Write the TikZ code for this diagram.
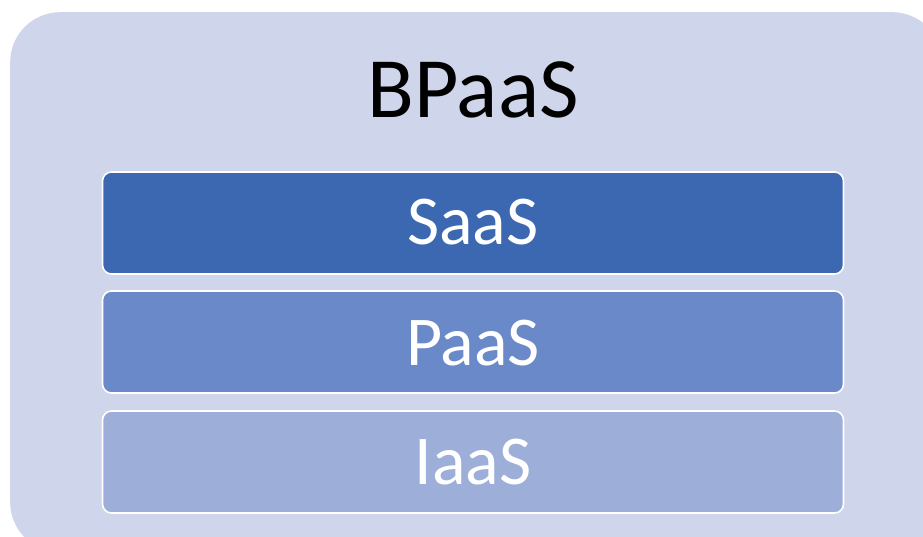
\documentclass[tikz,border=0pt]{standalone}
\usepackage{fontspec}
\setmainfont{Carlito}
\definecolor{bgc}{HTML}{CFD5EA}
\definecolor{saasc}{HTML}{3C67B1}
\definecolor{paasc}{HTML}{6A89C8}
\definecolor{iaasc}{HTML}{9DAED9}
\begin{document}
\begin{tikzpicture}[x=1pt,y=1pt,
  layer/.style={draw=white,line width=1.6pt,rounded corners=9pt,minimum width=741pt,minimum height=102pt,inner sep=0pt},
  lbl/.style={anchor=base,font=\fontsize{70}{84}\selectfont,text=white}]
\useasboundingbox (0,0) rectangle (923,536);
\fill[white] (0,0) rectangle (923,536);
\begin{scope}
\clip (0,0) rectangle (923,536);
\node[fill=bgc,rounded corners=50pt,minimum width=932pt,minimum height=540pt,inner sep=0pt,anchor=north west] (outer) at (10,524) {};
\end{scope}
\node[anchor=base,font=\fontsize{86}{100}\selectfont,text=black] (title) at (473,418) {BPaaS};
\node[layer,fill=saasc] (saas) at (473,313) {};
\node[layer,fill=paasc] (paas) at (473,194) {};
\node[layer,fill=iaasc] (iaas) at (473,74) {};
\node[lbl] (saast) at (473,291) {SaaS};
\node[lbl] (paast) at (473,171) {PaaS};
\node[lbl] (iaast) at (473,52) {IaaS};
\end{tikzpicture}
\end{document}
